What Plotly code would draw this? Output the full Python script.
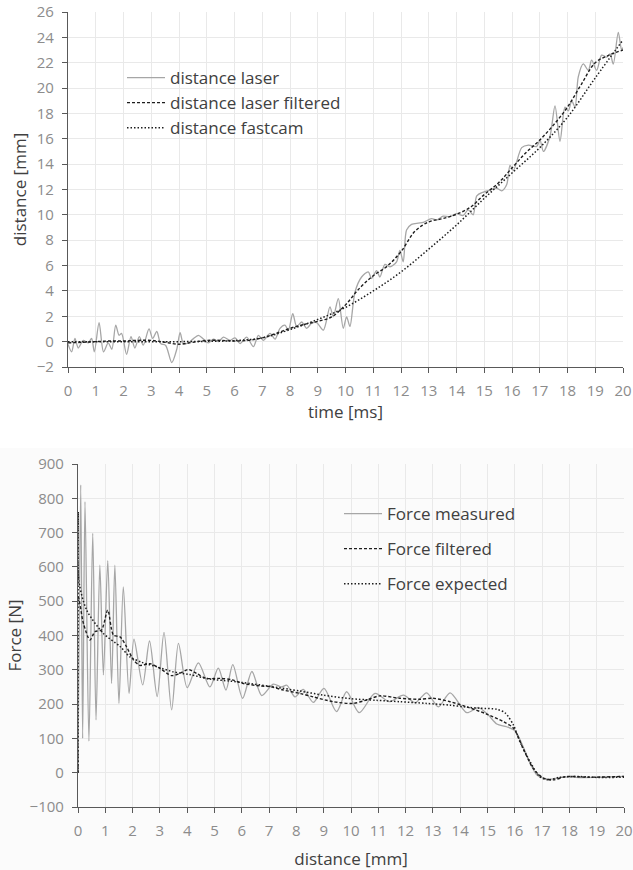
import plotly.graph_objects as go

# ---- Upper panel: distance vs time ----
laser_t = [0.00, 0.13, 0.25, 0.37, 0.55, 0.73, 0.85, 0.95, 1.12, 1.28, 1.45, 1.58, 1.72, 1.84, 1.93,
           2.11, 2.27, 2.41, 2.57, 2.71, 2.92, 3.05, 3.20, 3.34, 3.52, 3.74, 3.92, 4.04, 4.16, 4.34,
           4.50, 4.70, 4.88, 5.06, 5.24, 5.42, 5.60, 5.84, 6.02, 6.20, 6.44, 6.68, 6.86, 7.04, 7.28,
           7.46, 7.64, 7.82, 7.94, 8.10, 8.24, 8.42, 8.60, 8.78, 8.96, 9.20, 9.44, 9.56, 9.74, 9.92,
           10.04, 10.16, 10.34, 10.58, 10.82, 10.94, 11.12, 11.24, 11.42, 11.60, 11.84, 11.96, 12.08,
           12.20, 12.38, 12.62, 12.80, 13.10, 13.30, 13.52, 13.75, 14.00, 14.24, 14.42, 14.60, 14.73,
           14.97, 15.20, 15.45, 15.63, 15.81, 15.93, 16.05, 16.35, 16.59, 16.89, 17.01, 17.13, 17.37,
           17.55, 17.73, 17.91, 18.03, 18.15, 18.27, 18.39, 18.57, 18.75, 18.87, 19.05, 19.23, 19.41,
           19.53, 19.65, 19.83, 19.95, 20.00]
laser_d = [-0.2, -0.8, 0.25, -0.5, 0.1, -0.1, 0.25, -0.8, 1.5, -0.8, -0.1, -0.6, 1.3, 0.5, 0.65,
           -1.0, 0.4, -0.5, 0.4, -0.27, 1.0, 0.25, 0.8, -0.15, -0.3, -1.65, -0.6, 0.7, -0.15, -0.1,
           0.2, 0.5, 0.2, -0.1, 0.2, 0.0, 0.35, 0.1, 0.3, -0.15, 0.35, -0.4, 0.5, 0.1, 0.65,
           0.2, 1.05, 1.3, 0.9, 2.2, 1.2, 1.55, 1.05, 1.45, 1.5, 0.9, 2.75, 1.96, 3.4, 1.05,
           1.96, 1.2, 3.9, 5.1, 5.5, 4.98, 5.6, 5.1, 6.1, 5.9, 6.3, 7.2, 6.3,
           8.8, 9.25, 9.35, 9.4, 9.7, 9.6, 9.9, 9.85, 10.1, 9.95, 10.4, 10.0, 11.5,
           11.8, 11.95, 12.1, 11.9, 12.4, 13.9, 13.5, 15.3, 15.5, 15.4, 15.9, 15.0, 16.2,
           18.6, 15.8, 18.5, 18.2, 19.0, 18.5, 20.9, 21.9, 21.4, 22.2, 21.4, 22.6, 22.45,
           22.7, 21.9, 24.4, 23.0, 23.2]

filt_t = [0, 0.5, 1, 1.5, 2, 2.5, 3, 3.5, 4, 4.5, 5, 5.5, 6, 6.5, 7, 7.5, 8, 8.5, 9, 9.5, 10,
          10.5, 11, 11.5, 12, 12.5, 13, 13.5, 14, 14.5, 15, 15.5, 16, 16.5, 17, 17.5, 18, 18.5,
          19, 19.5, 20]
filt_d = [-0.1, -0.05, 0.0, 0.05, 0.05, 0.1, 0.1, -0.05, -0.2, -0.05, 0.1, 0.1, 0.05, 0.1, 0.3,
          0.65, 1.05, 1.35, 1.6, 1.95, 2.9, 4.2, 5.2, 5.95, 7.1, 8.7, 9.45, 9.7, 10.05, 10.6,
          11.6, 12.5, 13.7, 14.9, 15.9, 17.1, 18.5, 20.3, 22.0, 22.6, 23.0]

cam_t = [0, 1, 2, 3, 4, 5, 6, 7, 8, 9, 10, 11, 12, 13, 14, 15, 16, 17, 18, 19, 20]
cam_d = [0, 0, 0, 0, 0, 0.02, 0.08, 0.3, 0.95, 1.75, 2.7, 4.0, 5.5, 7.3, 9.2, 11.3, 13.3,
         15.3, 17.7, 20.8, 23.8]

# ---- Lower panel: force vs distance ----
meas_s = [0, 0.10, 0.17, 0.256, 0.40, 0.54, 0.66, 0.80, 0.93, 1.09, 1.23, 1.35, 1.50, 1.66, 1.87,
          2.05, 2.37, 2.62, 2.90, 3.15, 3.43, 3.68, 4.00, 4.41, 4.83, 5.14, 5.42, 5.67, 6.03,
          6.37, 6.73, 7.15, 7.45, 7.65, 7.95, 8.25, 8.62, 9.01, 9.47, 9.84, 10.30, 10.88, 11.40,
          11.92, 12.35, 12.77, 13.20, 13.63, 14.24, 14.67, 15.03, 15.34, 15.70, 16.00, 16.25,
          16.56, 16.80, 17.05, 17.30, 17.80, 18.50, 19.20, 20.00]
meas_f = [0, 839, 100, 790, 92, 698, 154, 605, 285, 618, 260, 605, 202, 542, 231,
          389, 256, 384, 222, 409, 183, 377, 248, 320, 250, 305, 241, 315, 217,
          295, 225, 258, 250, 255, 221, 243, 205, 246, 178, 236, 175, 231, 207,
          226, 204, 233, 192, 233, 175, 190, 168, 142, 134, 123, 86,
          28, -6, -16, -19, -13, -14, -13, -11]

ffilt_s = [0, 0.01, 0.2, 0.44, 0.62, 0.86, 1.09, 1.3, 1.54, 1.78, 2.03, 2.27, 2.64, 3.0, 3.43,
           3.74, 4.04, 4.35, 4.71, 5.2, 5.63, 6.06, 6.67, 7.03, 7.52, 8.13, 8.62, 9.35, 10.08,
           10.57, 11.06, 11.79, 12.5, 13.01, 13.63, 14.24, 14.97, 15.58, 15.95, 16.3, 16.68,
           17.05, 17.41, 17.9, 18.63, 20.0]
ffilt_f = [0, 512, 435, 387, 411, 416, 474, 401, 396, 367, 329, 313, 318, 304, 283,
           290, 301, 289, 275, 275, 271, 260, 253, 251, 241, 231, 221, 207, 202,
           212, 224, 217, 214, 217, 207, 192, 171, 149, 130, 71, 12,
           -16, -21, -11, -13, -11]

fexp_s = [0, 0.01, 0.03, 0.32, 0.93, 1.54, 1.9, 2.33, 2.88, 3.49, 4.1, 4.83, 5.57, 6.3, 7.03,
          8.13, 8.99, 9.96, 10.94, 11.79, 12.77, 13.63, 14.24, 14.73, 15.34, 15.65, 15.95,
          16.19, 16.56, 16.92, 17.23, 17.6, 18.27, 19.1, 20.0]
fexp_f = [0, 760, 560, 474, 406, 368, 338, 322, 309, 294, 286, 273, 267, 260, 252,
          238, 226, 216, 211, 207, 202, 197, 191, 188, 185, 174, 139,
          90, 32, -12, -21, -14, -11, -14, -13]

FONT = "Open Sans"
GREY = "#a6a6a6"
INK = "#1e1e1e"
TXT = "#404040"
TICK = "#8c8c8c"
GRID = "#e9e9e9"
AXL = "#595959"

fig = go.Figure()

fig.add_trace(go.Scatter(x=laser_t, y=laser_d, name="distance laser", mode="lines",
                         line=dict(color=GREY, width=1.3, shape="spline", smoothing=0.8),
                         xaxis="x", yaxis="y", legend="legend", legendgroup="a"))
fig.add_trace(go.Scatter(x=filt_t, y=filt_d, name="distance laser filtered", mode="lines",
                         line=dict(color=INK, width=1.4, dash="3px,2px", shape="spline"),
                         xaxis="x", yaxis="y", legend="legend", legendgroup="b"))
fig.add_trace(go.Scatter(x=cam_t, y=cam_d, name="distance fastcam", mode="lines",
                         line=dict(color=INK, width=1.5, dash="1.5px,2px", shape="spline"),
                         xaxis="x", yaxis="y", legend="legend", legendgroup="c"))

fig.add_trace(go.Scatter(x=meas_s, y=meas_f, name="Force measured", mode="lines",
                         line=dict(color=GREY, width=1.3, shape="spline", smoothing=0.8),
                         xaxis="x2", yaxis="y2", legend="legend2", legendgroup="d"))
fig.add_trace(go.Scatter(x=ffilt_s, y=ffilt_f, name="Force filtered", mode="lines",
                         line=dict(color=INK, width=1.4, dash="3px,2px", shape="spline", smoothing=0.8),
                         xaxis="x2", yaxis="y2", legend="legend2", legendgroup="e"))
fig.add_trace(go.Scatter(x=fexp_s, y=fexp_f, name="Force expected", mode="lines",
                         line=dict(color=INK, width=1.5, dash="1.5px,2px", shape="spline", smoothing=0.8),
                         xaxis="x2", yaxis="y2", legend="legend2", legendgroup="f"))

W, H = 633, 870


def ax_common(**kw):
    d = dict(showline=True, linecolor=AXL, linewidth=1.2, ticks="outside", ticklen=5,
             tickcolor=AXL, tickwidth=1, showgrid=True, gridcolor=GRID, gridwidth=1,
             zeroline=False, tickfont=dict(family=FONT, size=15, color=TICK),
             ticklabelstandoff=5, automargin=False, fixedrange=True)
    d.update(kw)
    return d


fig.update_layout(
    width=W, height=H, margin=dict(l=0, r=0, t=0, b=0, pad=0, autoexpand=False),
    paper_bgcolor="white", plot_bgcolor="rgba(0,0,0,0)",
    font=dict(family=FONT, color=TXT),
    xaxis=ax_common(domain=[68 / W, 623 / W], anchor="y", range=[0, 20], dtick=1, tick0=0,
                    title=dict(text="time [ms]", font=dict(size=17, color=TXT), standoff=7)),
    yaxis=ax_common(domain=[1 - 367 / H, 1 - 12 / H], anchor="x", range=[-2, 26], dtick=2, tick0=0,
                    title=dict(text="distance [mm]", font=dict(size=17, color=TXT), standoff=5)),
    xaxis2=ax_common(domain=[78 / W, 624 / W], anchor="y2", range=[0, 20], dtick=1, tick0=0,
                     title=dict(text="distance [mm]", font=dict(size=17, color=TXT), standoff=14)),
    yaxis2=ax_common(domain=[1 - 807 / H, 1 - 464 / H], anchor="x2", range=[-100, 900], dtick=100,
                     tick0=0,
                     title=dict(text="Force [N]", font=dict(size=17, color=TXT), standoff=3)),
    legend=dict(x=122 / W, y=1 - 60 / H, xanchor="left", yanchor="top",
                bgcolor="rgba(0,0,0,0)", font=dict(family=FONT, size=17, color=TXT),
                itemwidth=38, tracegroupgap=0, traceorder="grouped"),
    legend2=dict(x=339 / W, y=1 - 496 / H, xanchor="left", yanchor="top",
                 bgcolor="rgba(0,0,0,0)", font=dict(family=FONT, size=17, color=TXT),
                 itemwidth=38, tracegroupgap=10, traceorder="grouped"),
    shapes=[dict(type="rect", xref="paper", yref="paper", x0=0, x1=1, y0=0, y1=1 - 448 / H,
                 fillcolor="#fbfbfb", line=dict(width=0), layer="below")],
)

fig.write_html("out.html")
